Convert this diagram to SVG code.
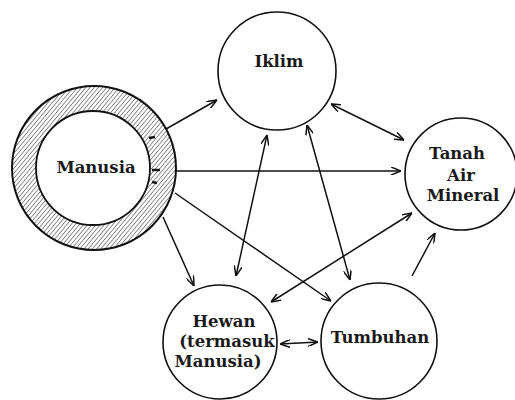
<svg xmlns="http://www.w3.org/2000/svg" width="515" height="400" viewBox="0 0 515 400">
<style>
.node circle{fill:#fff;stroke:#111;stroke-width:1.6}
.lbl{font-family:"DejaVu Serif","Liberation Serif",serif;font-weight:bold;font-size:16.5px;fill:#1a1a1a;text-anchor:middle}
.conn line{stroke:#111;stroke-width:1.5;fill:none}
.one{marker-end:url(#ah)}
.two{marker-start:url(#ah);marker-end:url(#ah)}
</style>
<defs>
<marker id="ah" viewBox="0 0 10 8" refX="10" refY="4" markerWidth="10" markerHeight="8" markerUnits="userSpaceOnUse" orient="auto-start-reverse">
<path d="M0,0 L10,4 L0,8" fill="none" stroke="#111" stroke-width="1.5"/>
</marker>
<pattern id="hatch" width="3.2" height="3.2" patternUnits="userSpaceOnUse" patternTransform="rotate(40)">
<line x1="0" y1="0" x2="0" y2="3.2" stroke="#222" stroke-width="1"/>
</pattern>
</defs>
<rect width="515" height="400" fill="#fff"/>
<g class="conn">
<line class="one" x1="166" y1="129" x2="217" y2="100"/>
<line class="one" x1="176" y1="171" x2="401" y2="171"/>
<line class="one" x1="175" y1="193" x2="331" y2="301"/>
<line class="one" x1="163" y1="217" x2="194" y2="286"/>
<line class="two" x1="331" y1="104" x2="404" y2="140"/>
<line class="two" x1="267" y1="135" x2="236" y2="276"/>
<line class="two" x1="307" y1="125" x2="350" y2="280"/>
<line class="two" x1="412" y1="213" x2="271" y2="302"/>
<line class="two" x1="280" y1="344" x2="318" y2="342"/>
<line class="one" x1="412" y1="276" x2="435" y2="233"/>
</g>
<g id="manusia">
<path d="M12,168 a82,82 0 1,0 164,0 a82,82 0 1,0 -164,0 Z M36,168 a57,57 0 1,1 114,0 a57,57 0 1,1 -114,0 Z" fill="url(#hatch)" fill-rule="evenodd"/>
<circle cx="94" cy="168" r="82" fill="none" stroke="#111" stroke-width="2"/>
<circle cx="93" cy="168" r="57" fill="none" stroke="#111" stroke-width="1.8"/>
<path d="M149,138 l6,-1 M152,170 l8,0 M152,182 l5,1" stroke="#111" stroke-width="2.5" fill="none"/>
<text class="lbl" x="96" y="173">Manusia</text>
</g>
<g id="iklim" class="node">
<circle cx="277" cy="71" r="59"/>
<text class="lbl" x="279" y="67">Iklim</text>
</g>
<g id="tanah" class="node">
<circle cx="461" cy="174" r="56"/>
<text class="lbl" x="457" y="159">Tanah</text>
<text class="lbl" x="461" y="181">Air</text>
<text class="lbl" x="463" y="201">Mineral</text>
</g>
<g id="hewan" class="node">
<circle cx="220" cy="342" r="57"/>
<text class="lbl" x="224" y="327">Hewan</text>
<text class="lbl" x="227" y="347">(termasuk</text>
<text class="lbl" x="218" y="367">Manusia)</text>
</g>
<g id="tumbuhan" class="node">
<circle cx="379" cy="341" r="58"/>
<text class="lbl" x="380" y="343">Tumbuhan</text>
</g>
</svg>
